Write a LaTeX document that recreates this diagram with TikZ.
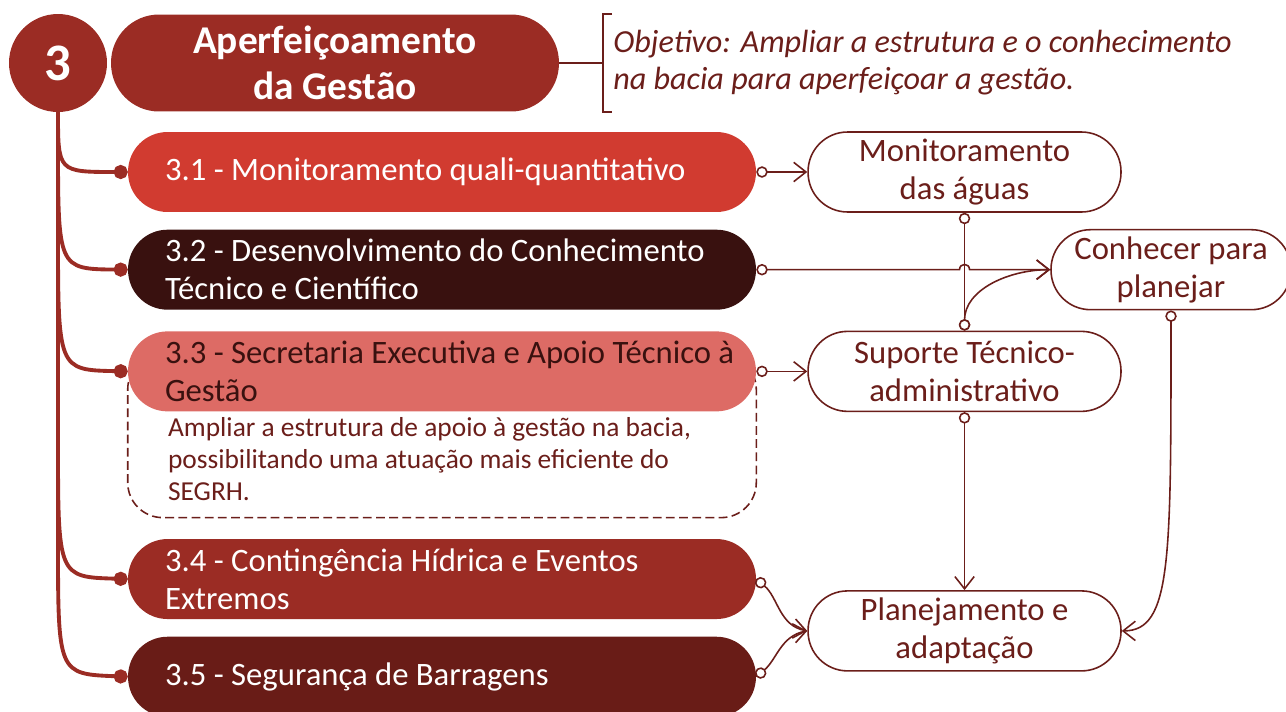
\documentclass[tikz,border=0pt]{standalone}
\usepackage{fontspec}
\setmainfont{Carlito}
\usetikzlibrary{arrows.meta,shapes,positioning,backgrounds,fit}
\definecolor{cmain}{RGB}{155,44,36}
\definecolor{cA}{RGB}{209,59,48}
\definecolor{cB}{RGB}{57,17,15}
\definecolor{cC}{RGB}{221,107,101}
\definecolor{cD}{RGB}{155,44,36}
\definecolor{cE}{RGB}{105,28,23}
\definecolor{cline}{RGB}{107,30,26}
\tikzset{
  item/.style={rectangle, rounded corners=0.79cm, minimum width=12.56cm, minimum height=1.6cm,
    text width=11.08cm, inner xsep=0.74cm, inner ysep=0pt, align=flush left, text=white,
    font=\fontsize{18.6}{21.6}\selectfont},
  goal/.style={rectangle, rounded corners=0.79cm, draw=cline, line width=0.9pt, fill=white,
    minimum width=6.26cm, minimum height=1.6cm, inner sep=0pt, align=center, text=cline,
    font=\fontsize{18.6}{21.6}\selectfont},
  aimtext/.style={text width=12cm, align=flush left, inner sep=0pt, text=cline,
    font=\fontsize{15.6}{18.2}\selectfont},
  dashbox/.style={draw=cline, dash pattern=on 5pt off 2.5pt, line width=0.9pt, rounded corners=0.7cm},
  branch/.style={draw=cmain, line width=2.2pt, -{Circle[length=8pt]}},
  flow/.style={draw=cline, line width=0.9pt,
    {Circle[open,length=6.5pt,fill=white]}-{Straight Barb[length=7pt,width=11pt]}},
}

\begin{document}
\begin{tikzpicture}[x=0.02cm, y=-0.02cm, node distance=0.34cm]
    \useasboundingbox (0,0) rectangle (1286,711);

    \node[circle, fill=cmain, minimum size=1.96cm, text=white,
          font=\bfseries\fontsize{30}{30}\selectfont] (root) at (58,63) {3};
    \node[rectangle, rounded corners=0.96cm, fill=cmain, minimum width=8.96cm,
          minimum height=1.94cm, inner sep=0pt, align=center, text=white,
          font=\bfseries\fontsize{22.4}{26}\selectfont] (title) at (335,63) {Aperfeiçoamento\\da Gestão};
    \node[anchor=west, minimum height=1.94cm, inner xsep=0.2cm, inner ysep=0pt, align=left,
          text=cline, font=\itshape\fontsize{18.3}{21}\selectfont] (obj) at (603,63)
          {Objetivo: Ampliar a estrutura e o conhecimento\\na bacia para aperfeiçoar a gestão.};
    \draw[cline, line width=0.9pt] ([xshift=0.18cm]obj.north west) -- (obj.north west)
          -- (obj.south west) -- ([xshift=0.18cm]obj.south west);
    \draw[cline, line width=0.9pt] (title) -- (obj);

    \node[item, fill=cA] (it31) at (442,172) {3.1 - Monitoramento quali-quantitativo};
    \node[item, fill=cB, below=of it31] (it32) {3.2 - Desenvolvimento do Conhecimento\\Técnico e Científico};
    \node[item, fill=cC, text=cB, below=0.42cm of it32] (it33) {\mbox{3.3 - Secretaria Executiva e Apoio Técnico à}\\Gestão};
    \node[aimtext, anchor=north west, below right=0.1cm and 0.8cm of it33.south west] (aim33)
          {Ampliar a estrutura de apoio à gestão na bacia,\\possibilitando uma atuação mais eficiente do\\SEGRH.};
    \begin{scope}[on background layer]
      \node[dashbox, fit=(it33.west) (it33.east) (aim33.south), inner xsep=0pt, inner ysep=0.34cm] (box33) {};
    \end{scope}
    \node[item, fill=cD, below=2.54cm of it33] (it34) {3.4 - Contingência Hídrica e Eventos\\Extremos};
    \node[item, fill=cE, below=of it34] (it35) {3.5 - Segurança de Barragens};

    % trunk and branches
    \foreach \i/\y/\b in {31/172/112, 32/269/140, 33/370/230, 34/577/440, 35/674/540}
      \draw[branch] (root.south) -- (58,\b) .. controls (58,\y) .. (it\i.west);

    \node[goal, right=1.02cm of it31] (mon) {Monitoramento\\das águas};
    \node[goal, right=1.02cm of it33] (sup) {Suporte Técnico-\\administrativo};
    \node[goal, below=3.56cm of sup] (plan) {Planejamento e\\adaptação};
    \node[goal, minimum width=4.8cm, right=5.88cm of it32] (con) {Conhecer para\\planejar};

    \draw[flow] (it31) -- (mon);
    \draw[flow] (it32) -- ([xshift=-0.1cm]it32 -| mon) .. controls +(0,0.14cm) and +(0,0.14cm)
          .. ([xshift=0.1cm]it32 -| mon) -- (con);
    \draw[flow, {Circle[open,length=6.5pt,fill=white]}-{Circle[open,length=6.5pt,fill=white]}] (mon) -- (sup);
    \draw[flow] (sup.north) to[out=90, in=180] (con.west);
    \draw[flow] (it33) -- (sup);
    \draw[flow] (sup) -- (plan);
    \draw[flow] (con.south) .. controls +(0,-5cm) and +(1cm,0) .. (plan.east);
    \draw[flow] (it34.east) to[out=-40, in=170] (plan.west);
    \draw[flow] (it35.east) to[out=40, in=190] (plan.west);
\end{tikzpicture}
\end{document}
